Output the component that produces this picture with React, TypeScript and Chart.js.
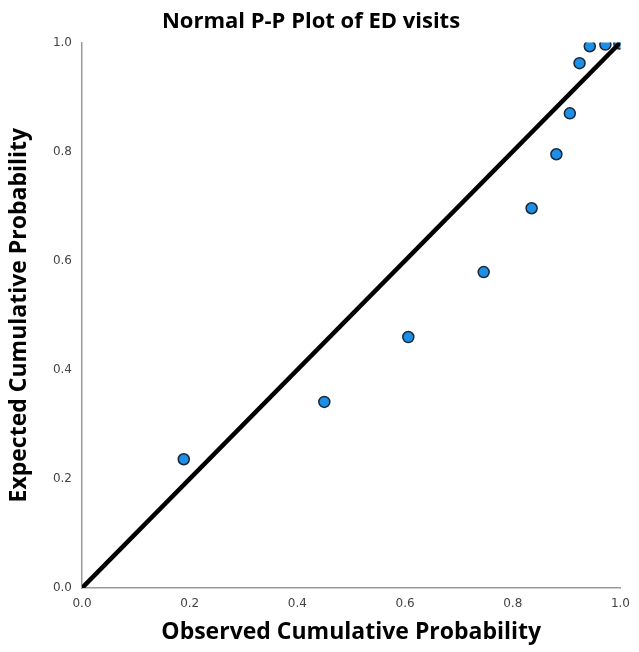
import React, { useEffect, useRef } from "react";
import { Chart, registerables } from "chart.js";

Chart.register(...registerables);

const titleText = "Normal P-P Plot of ED visits";
const xTitle = "Observed Cumulative Probability";
const yTitle = "Expected Cumulative Probability";

const observed = [0.189, 0.45, 0.606, 0.746, 0.835, 0.881, 0.906, 0.924, 0.943, 0.972, 0.998];
const expected = [0.236, 0.341, 0.46, 0.579, 0.696, 0.795, 0.87, 0.962, 0.993, 0.996, 0.998];
const refLineX = [0, 1];
const refLineY = [0, 1];

export default function App() {
  const ref = useRef<HTMLCanvasElement | null>(null);

  useEffect(() => {
    if (!ref.current) return;
    const chart = new Chart(ref.current, {
      type: "scatter",
      data: {
        datasets: [
          {
            type: "line",
            label: "Reference",
            data: refLineX.map((x, i) => ({ x, y: refLineY[i] })),
            borderColor: "#000000",
            borderWidth: 4.5,
            pointRadius: 0,
            fill: false,
            order: 0,
          },
          {
            label: "ED visits",
            data: observed.map((x, i) => ({ x, y: expected[i] })),
            backgroundColor: "#1E8FE6",
            borderColor: "#16283a",
            borderWidth: 1.5,
            pointRadius: 5.5,
            order: 1,
          },
        ],
      },
      options: {
        responsive: false,
        animation: false,
        layout: { padding: { top: 0, right: 17, left: 0, bottom: 0 } },
        plugins: {
          legend: { display: false },
          tooltip: { enabled: false },
          title: {
            display: true,
            text: titleText,
            color: "#000",
            font: { family: "'Open Sans'", size: 22, weight: "bold", lineHeight: 1.2 },
            padding: { top: 9, bottom: 7 },
          },
        },
        scales: {
          x: {
            type: "linear",
            min: 0,
            max: 1,
            afterFit: (s: any) => {
              s.height = 64;
            },
            grid: { display: false, drawTicks: false },
            border: { display: true, color: "#9a9a9a", width: 1.5 },
            title: {
              display: true,
              text: xTitle,
              color: "#000",
              font: { family: "'Open Sans'", size: 23, weight: "bold", lineHeight: 1.2 },
              padding: { top: 0, bottom: 6 },
            },
            ticks: {
              stepSize: 0.2,
              padding: 9,
              color: "#444",
              font: { family: "'DejaVu Sans'", size: 12 },
              callback: (v: any) => Number(v).toFixed(1),
            },
          },
          y: {
            type: "linear",
            min: 0,
            max: 1,
            afterFit: (s: any) => {
              s.width = 82;
            },
            grid: { display: false, drawTicks: false },
            border: { display: true, color: "#9a9a9a", width: 1.5 },
            title: {
              display: true,
              text: yTitle,
              color: "#000",
              font: { family: "'Open Sans'", size: 23, weight: "bold", lineHeight: 1.2 },
              padding: { top: 6, bottom: 0 },
            },
            ticks: {
              stepSize: 0.2,
              padding: 10,
              color: "#444",
              font: { family: "'DejaVu Sans'", size: 12 },
              callback: (v: any) => Number(v).toFixed(1),
            },
          },
        },
      },
    });
    return () => chart.destroy();
  }, []);

  return (
    <div style={{ position: "absolute", left: 0, top: 0, width: 639, height: 652, background: "#fff" }}>
      <canvas ref={ref} width={639} height={652} style={{ display: "block" }} />
    </div>
  );
}
